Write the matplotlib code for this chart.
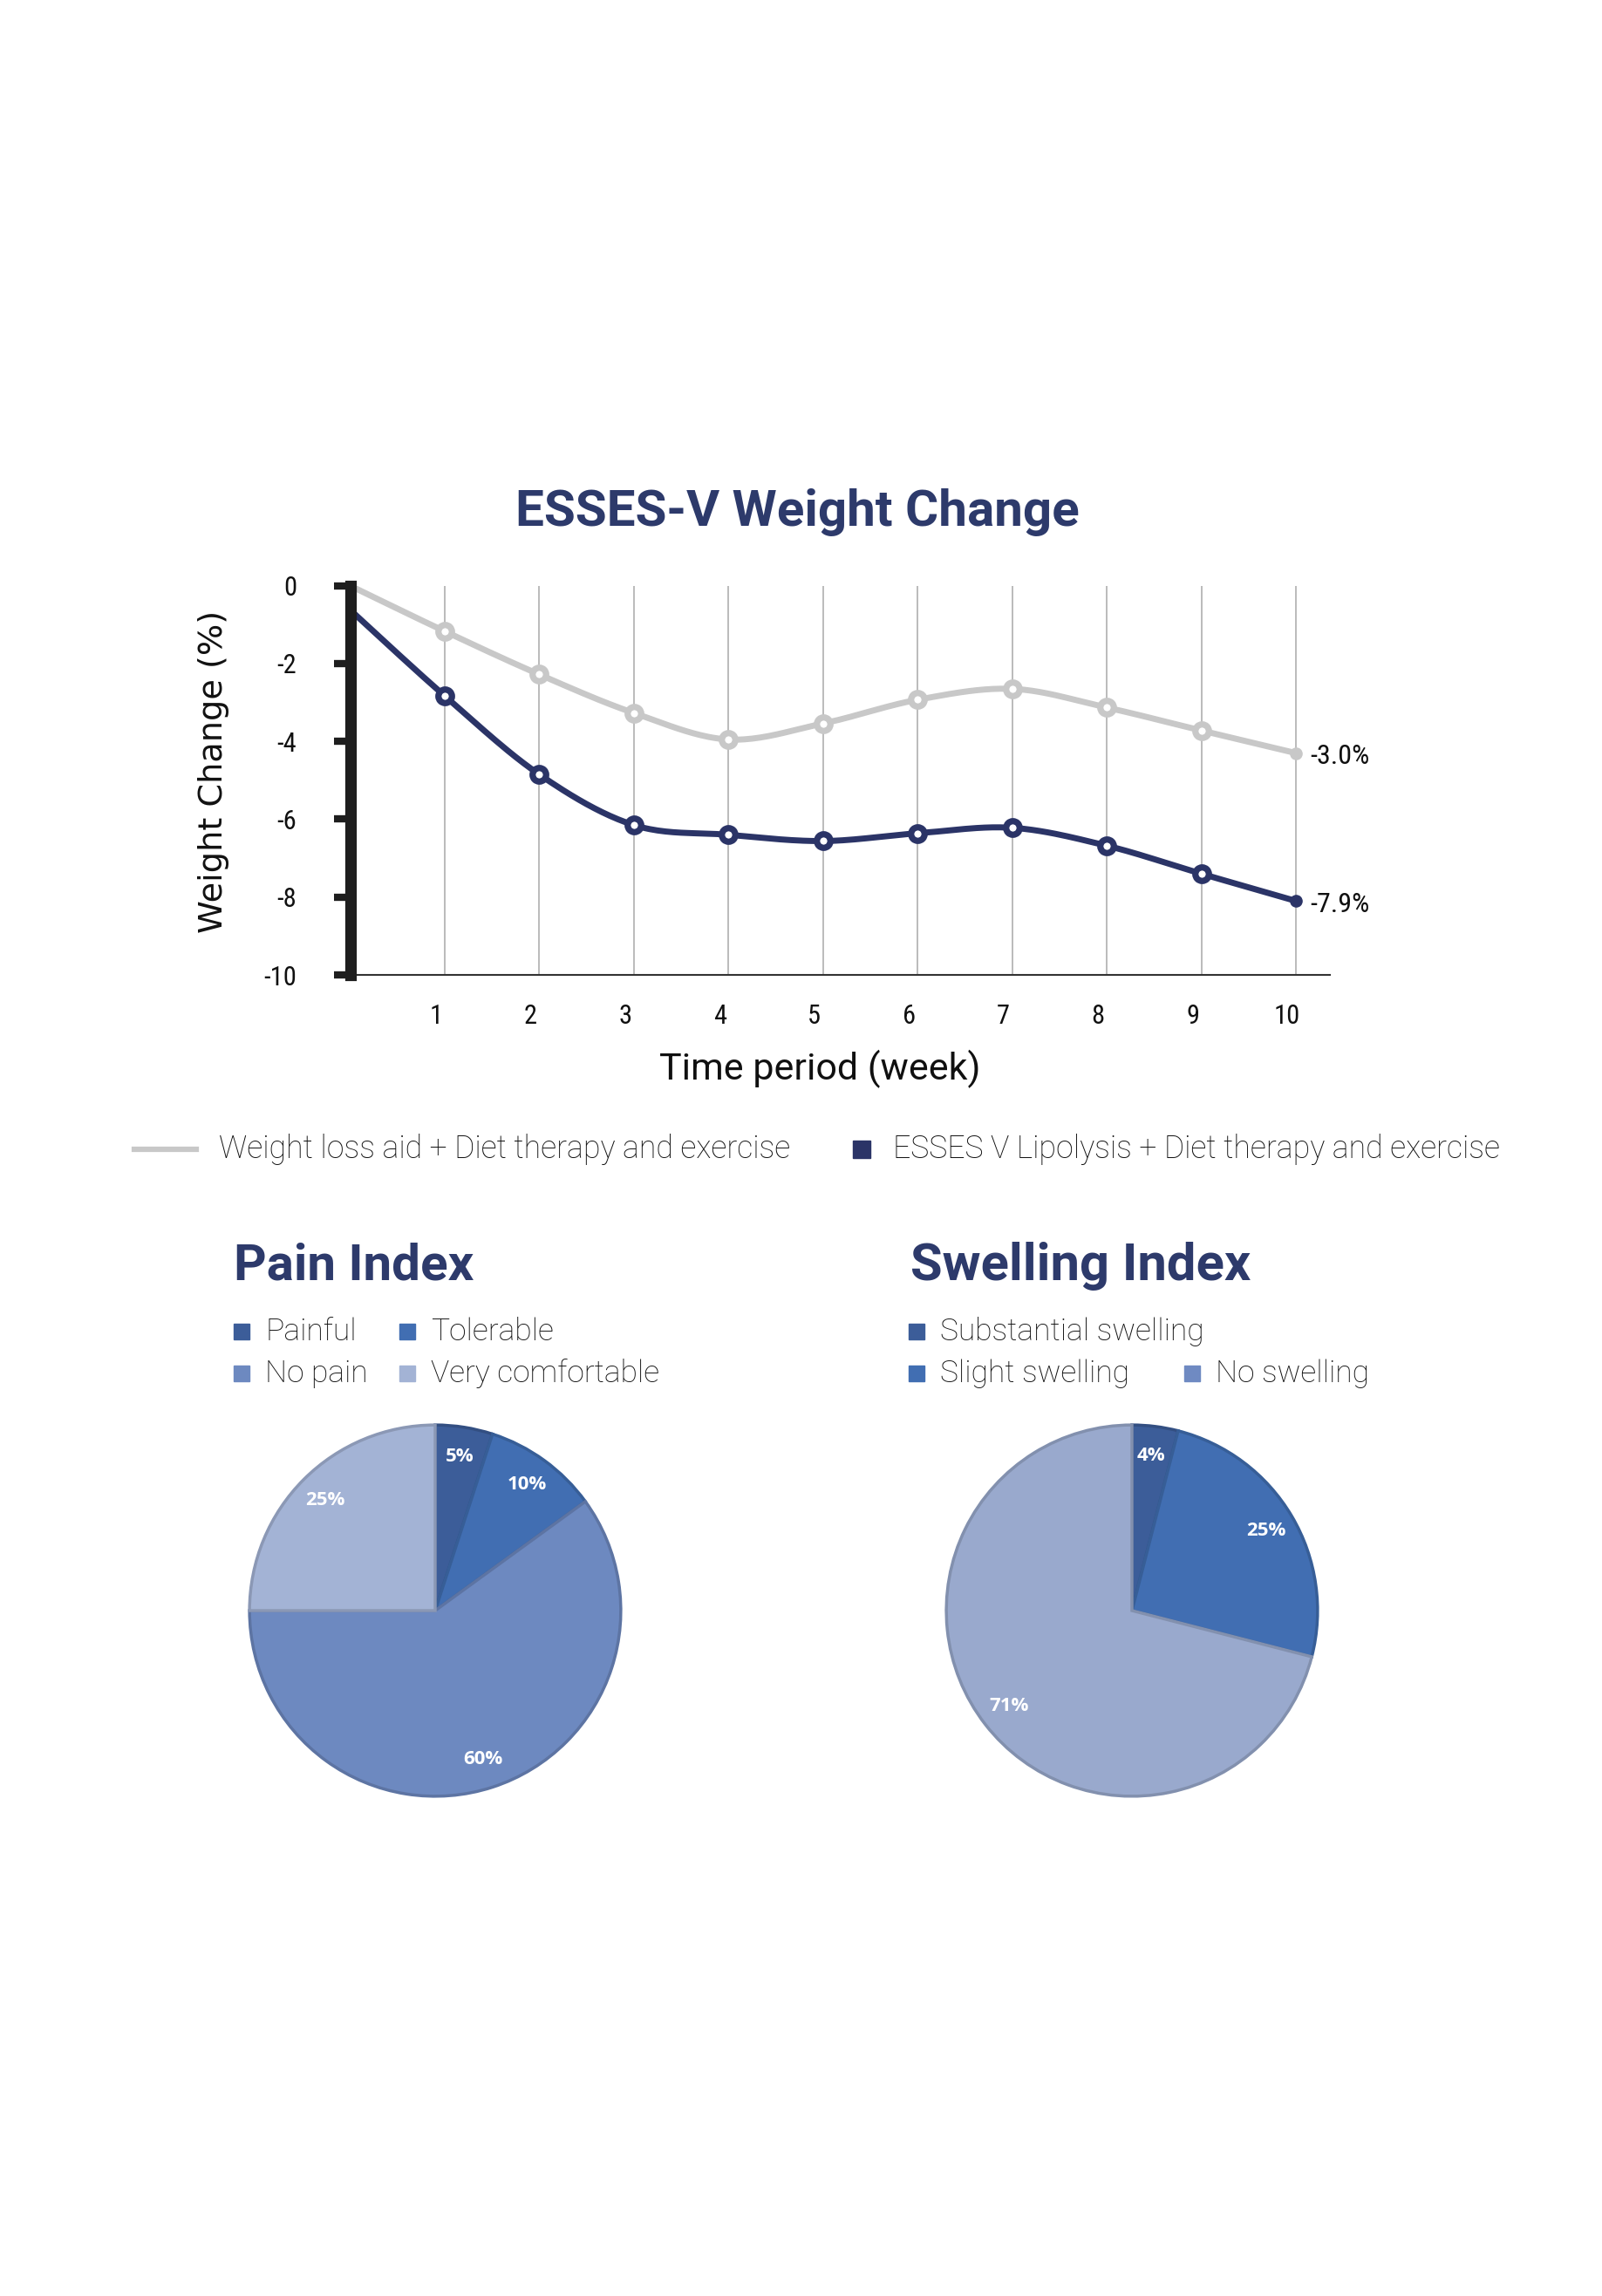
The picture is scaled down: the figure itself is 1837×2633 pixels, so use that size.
import numpy as np
import matplotlib
matplotlib.use("Agg")
import matplotlib.pyplot as plt
from matplotlib.transforms import ScaledTranslation
from matplotlib.patches import Rectangle
from matplotlib.lines import Line2D

# data
weeks = [0, 1, 2, 3, 4, 5, 6, 7, 8, 9, 10]
aid_change = [0.0, -1.17, -2.28, -3.27, -3.95, -3.54, -2.93, -2.65, -3.13, -3.72, -4.3]
esses_change = [-0.62, -2.83, -4.85, -6.15, -6.40, -6.56, -6.36, -6.22, -6.68, -7.40, -8.1]
end_labels = ["-3.0%", "-7.9%"]
series_names = ["Weight loss aid + Diet therapy and exercise",
                "ESSES V Lipolysis + Diet therapy and exercise"]
y_ticks = [0, -2, -4, -6, -8, -10]
x_ticks = [1, 2, 3, 4, 5, 6, 7, 8, 9, 10]

pain_labels = ["Painful", "Tolerable", "No pain", "Very comfortable"]
pain_values = [5, 10, 60, 25]
swell_labels = ["Substantial swelling", "Slight swelling", "No swelling"]
swell_values = [4, 25, 71]

NAVY = "#2b3467"
GRAY = "#c8c8c8"
TITLE = "#2d3a6b"
TXT = "#101010"
pain_colors = ["#3c5d99", "#416eb2", "#6d89c0", "#a3b3d5"]
swell_colors = ["#3c5d99", "#416eb2", "#99a9cd"]
swell_legend_colors = ["#3c5d99", "#416eb2", "#6f8ac2"]

COND = ["Roboto Condensed", "Liberation Sans Narrow", "DejaVu Sans"]
LIGHT = ["Roboto", "DejaVu Sans"]
BOLD = ["Roboto", "DejaVu Sans"]

W, H = 1837, 2633
fig = plt.figure(figsize=(W / 100, H / 100), dpi=100)
fig.patch.set_facecolor("white")


def fx(px):
    return px / W


def fy(py):
    return 1 - py / H


def smooth(x, y, n=24):
    pts = np.column_stack([x, y]).astype(float)
    P = np.vstack([pts[0], pts, pts[-1]])
    out = []
    t = np.linspace(0, 1, n, endpoint=False)[:, None]
    for i in range(1, len(P) - 2):
        p0, p1, p2, p3 = P[i - 1], P[i], P[i + 1], P[i + 2]
        seg = 0.5 * (2 * p1 + (-p0 + p2) * t + (2 * p0 - 5 * p1 + 4 * p2 - p3) * t ** 2
                     + (-p0 + 3 * p1 - 3 * p2 + p3) * t ** 3)
        out.append(seg)
    out.append(pts[-1:])
    return np.vstack(out)


# ---- line chart ----
ax_l, ax_r, ax_t, ax_b = 401.5, 1525, 671.7, 1118
ax = fig.add_axes([fx(ax_l), fy(ax_b), fx(ax_r - ax_l), (ax_b - ax_t) / H])
ax.set_xlim(0, (ax_r - ax_l) / 108.45)
ax.set_ylim(-10, 0)

for xv in x_ticks:
    ax.axvline(xv, color="#a8a8a8", lw=1.1, zorder=1)

for vals, col in [(aid_change, GRAY), (esses_change, NAVY)]:
    s = smooth(weeks, vals)
    ax.plot(s[:, 0], s[:, 1], color=col, lw=5, solid_capstyle="round", zorder=3)
    ax.plot(weeks[1:-1], vals[1:-1], "o", ms=11.2, mfc="white", mec=col, mew=5.2, zorder=4)
    ax.plot(weeks[-1:], vals[-1:], "o", ms=9.5, color=col, zorder=4)

ax.annotate(end_labels[0], (weeks[-1], aid_change[-1]), xytext=(12, -3), textcoords="offset points",
            ha="left", va="center", fontsize=23, family=COND, color=TXT)
ax.annotate(end_labels[1], (weeks[-1], esses_change[-1]), xytext=(12, -3), textcoords="offset points",
            ha="left", va="center", fontsize=23, family=COND, color=TXT)

for sp in ["top", "right"]:
    ax.spines[sp].set_visible(False)
ax.spines["left"].set_linewidth(9.5)
ax.spines["left"].set_color("#1e1e1e")
ax.spines["left"].set_zorder(5)
ax.spines["bottom"].set_linewidth(1.5)
ax.spines["bottom"].set_color("#333333")

ax.set_yticks(y_ticks)
ax.set_yticklabels([str(v) for v in y_ticks], family=COND, fontsize=22, color=TXT)
ax.tick_params(axis="y", length=14, width=6, color="#1e1e1e", pad=30)
ax.set_xticks(x_ticks)
ax.set_xticklabels([str(v) for v in x_ticks], family=COND, fontsize=22, color=TXT)
ax.tick_params(axis="x", length=0, pad=24)
shift = ScaledTranslation(-10 / 100, 0, fig.dpi_scale_trans)
for lab in ax.get_xticklabels():
    lab.set_transform(lab.get_transform() + shift)

fig.text(fx(245), fy(885), "Weight Change (%)", rotation=90, ha="center", va="center",
         fontsize=27.5, family=["DejaVu Sans"], color="#111111")
fig.text(fx(940), fy(1226), "Time period (week)", ha="center", va="center",
         fontsize=31, family=LIGHT, color=TXT)
fig.text(fx(914), fy(588), "ESSES-V Weight Change", ha="center", va="center",
         fontsize=42, family=BOLD, fontweight="bold", color=TITLE)

# legend row for the line chart
fig.add_artist(Line2D([fx(154), fx(225)], [fy(1318), fy(1318)], color=GRAY, lw=4.5))
fig.text(fx(251), fy(1318), series_names[0], ha="left", va="center",
         fontsize=25.7, family=LIGHT, fontweight="light", color=TXT)
fig.add_artist(Rectangle((fx(978), fy(1328)), fx(20), 20 / H, color=NAVY))
fig.text(fx(1024), fy(1318), series_names[1], ha="left", va="center",
         fontsize=25.7, family=LIGHT, fontweight="light", color=TXT)


# ---- pies ----
def legend_item(xs, ys, color, text):
    fig.add_artist(Rectangle((fx(xs), fy(ys + 9)), fx(18), 18 / H, color=color))
    fig.text(fx(xs + 36), fy(ys), text, ha="left", va="center",
             fontsize=25.5, family=LIGHT, fontweight="light", color=TXT)


def darker(c, f=0.85):
    r, g, b = matplotlib.colors.to_rgb(c)
    return (r * f, g * f, b * f)


def draw_pie(cx, cy, r, values, colors):
    a = fig.add_axes([fx(cx - r), fy(cy + r), fx(2 * r), 2 * r / H])
    wedges, _, autotexts = a.pie(values, colors=colors, startangle=90, counterclock=False,
                                 autopct="%d%%", pctdistance=0.84, radius=1,
                                 wedgeprops=dict(linewidth=2.5))
    for w, c in zip(wedges, colors):
        w.set_edgecolor(darker(c))
    for t in autotexts:
        t.set_color("white")
        t.set_fontsize(16)
        t.set_fontweight("bold")
        t.set_family(["Open Sans", "DejaVu Sans"])
    a.set_xlim(-1.01, 1.01)
    a.set_ylim(-1.01, 1.01)
    a.set_aspect("equal")
    a.axis("off")


fig.text(fx(268), fy(1452), "Pain Index", ha="left", va="center",
         fontsize=42, family=BOLD, fontweight="bold", color=TITLE)
legend_item(268, 1527, pain_colors[0], pain_labels[0])
legend_item(458, 1527, pain_colors[1], pain_labels[1])
legend_item(268, 1575, pain_colors[2], pain_labels[2])
legend_item(458, 1575, pain_colors[3], pain_labels[3])
draw_pie(499, 1847, 215, pain_values, pain_colors)

fig.text(fx(1044), fy(1452), "Swelling Index", ha="left", va="center",
         fontsize=43, family=BOLD, fontweight="bold", color=TITLE)
legend_item(1042, 1527, swell_legend_colors[0], swell_labels[0])
legend_item(1042, 1575, swell_legend_colors[1], swell_labels[1])
legend_item(1358, 1575, swell_legend_colors[2], swell_labels[2])
draw_pie(1298, 1847, 215, swell_values, swell_colors)

fig.savefig("out.png", dpi=100, facecolor="white")
